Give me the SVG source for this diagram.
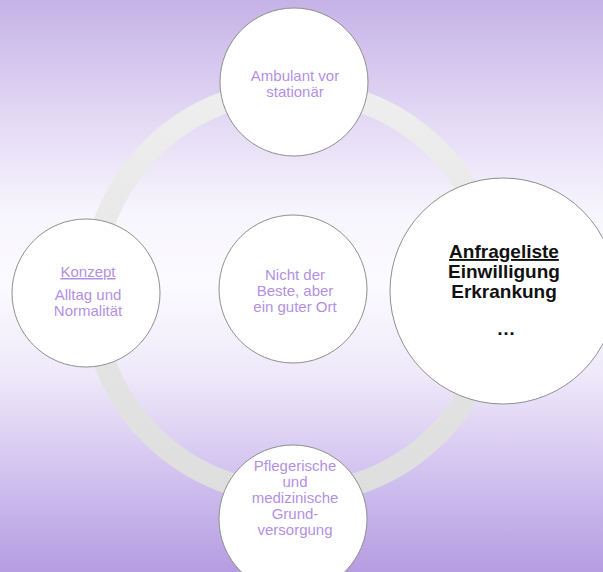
<svg xmlns="http://www.w3.org/2000/svg" width="603" height="572" viewBox="0 0 603 572">
  <defs>
    <linearGradient id="bg" x1="0" y1="0" x2="0" y2="1">
      <stop offset="0" stop-color="#c6b2e7"/>
      <stop offset="0.2" stop-color="#e2d8f4"/>
      <stop offset="0.38" stop-color="#f8f6fd"/>
      <stop offset="0.5" stop-color="#fbfaff"/>
      <stop offset="0.66" stop-color="#eee8f9"/>
      <stop offset="0.82" stop-color="#d3c4f0"/>
      <stop offset="1" stop-color="#b59ce1"/>
    </linearGradient>
    <linearGradient id="ring" x1="0" y1="0" x2="0" y2="1">
      <stop offset="0" stop-color="#eeeeee"/>
      <stop offset="1" stop-color="#dedede"/>
    </linearGradient>
    <style>
      .node { fill: #ffffff; stroke: #8f8f8f; stroke-width: 1; }
      .lbl { font-family: "Liberation Sans", Arial, sans-serif; font-size: 15px; fill: #b390e4; text-anchor: middle; }
      .big { font-family: "Liberation Sans", Arial, sans-serif; font-size: 19px; font-weight: bold; fill: #111111; text-anchor: middle; }
    </style>
  </defs>
  <rect x="0" y="0" width="603" height="572" fill="url(#bg)"/>

  <g id="connectors">
    <circle cx="294" cy="292" r="202" fill="none" stroke="url(#ring)" stroke-width="22"/>
  </g>

  <g id="node-top">
    <circle class="node" cx="294" cy="82" r="74"/>
    <text class="lbl" x="295" y="81">Ambulant vor</text>
    <text class="lbl" x="295" y="97">stationär</text>
  </g>

  <g id="node-left">
    <circle class="node" cx="86" cy="293" r="74"/>
    <text class="lbl" x="88" y="277" text-decoration="underline">Konzept</text>
    <text class="lbl" x="88" y="300">Alltag und</text>
    <text class="lbl" x="88" y="316">Normalität</text>
  </g>

  <g id="node-center">
    <circle class="node" cx="293" cy="289" r="74"/>
    <text class="lbl" x="295" y="280">Nicht der</text>
    <text class="lbl" x="295" y="296">Beste, aber</text>
    <text class="lbl" x="295" y="312">ein guter Ort</text>
  </g>

  <g id="node-bottom">
    <circle class="node" cx="293" cy="519" r="74"/>
    <text class="lbl" x="295" y="471">Pflegerische</text>
    <text class="lbl" x="295" y="487">und</text>
    <text class="lbl" x="295" y="503">medizinische</text>
    <text class="lbl" x="295" y="519">Grund-</text>
    <text class="lbl" x="295" y="535">versorgung</text>
  </g>

  <g id="node-right">
    <circle class="node" cx="503" cy="291" r="113"/>
    <text class="big" x="504" y="258" text-decoration="underline">Anfrageliste</text>
    <text class="big" x="504" y="278">Einwilligung</text>
    <text class="big" x="504" y="298">Erkrankung</text>
    <text class="big" x="506" y="335">…</text>
  </g>
</svg>
